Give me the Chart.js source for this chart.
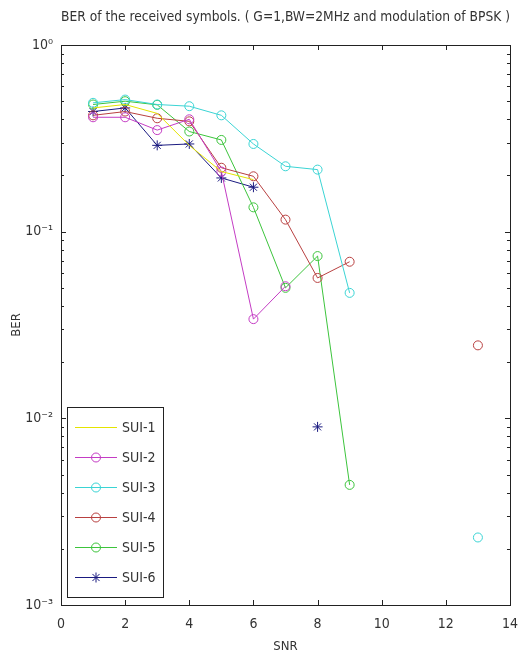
<!DOCTYPE html>
<html>
<head>
<meta charset="utf-8">
<script src="https://cdn.jsdelivr.net/npm/chart.js@4/dist/chart.umd.min.js"></script>
<style>
  body { margin: 0; background: #fff; }
  canvas { display: block; }
</style>
</head>
<body>
<canvas id="myChart" width="529" height="659"></canvas>
<script>
// SNR values (x axis)
const snr = [1, 2, 3, 4, 5, 6, 7, 8, 9, 10, 11, 12, 13]

// BER, null = no point
const sui1 = [0.46, 0.48, 0.43, 0.29, 0.21, 0.19, null, null, null, null, null, null, null]
const sui2 = [0.41, 0.41, 0.35, 0.40, 0.21, 0.034, 0.051, null, null, null, null, null, null]
const sui3 = [0.49, 0.51, 0.48, 0.47, 0.42, 0.295, 0.224, 0.215, 0.047, null, null, null, 0.0023]
const sui4 = [0.42, 0.44, 0.405, 0.39, 0.22, 0.198, 0.116, 0.0565, 0.069, null, null, null, 0.0246]
const sui5 = [0.48, 0.50, 0.478, 0.344, 0.31, 0.135, 0.05, 0.074, 0.0044, null, null, null, null]
const sui6 = [0.44, 0.46, 0.29, 0.295, 0.194, 0.173, null, 0.009, null, null, null, null, null]

const seriesNames = ["SUI-1", "SUI-2", "SUI-3", "SUI-4", "SUI-5", "SUI-6"]
const xTicks = [0, 2, 4, 6, 8, 10, 12, 14]
const yDecades = [0.001, 0.01, 0.1, 1]
const yTickLabels = ["10\u207B\u00B3", "10\u207B\u00B2", "10\u207B\u00B9", "10\u2070"]

const fontFam = '"Liberation Sans Narrow", "DejaVu Sans Condensed", "Arial Narrow", sans-serif'

const toPoints = (arr) => snr.map((x, i) => ({ x: x, y: arr[i] }))

const makeSet = (name, arr, color, style, radius) => ({
  label: name,
  data: toPoints(arr),
  borderColor: color,
  backgroundColor: color,
  borderWidth: 1,
  pointStyle: style,
  pointRadius: radius,
  pointBorderWidth: 1,
  pointBorderColor: color,
  pointBackgroundColor: "rgba(0,0,0,0)",
  spanGaps: false,
  tension: 0,
})

const datasets = [
  makeSet(seriesNames[0], sui1, "#e4e400", "circle", 0),
  makeSet(seriesNames[1], sui2, "#c43cc4", "circle", 4.5),
  makeSet(seriesNames[2], sui3, "#3ad4d4", "circle", 4.5),
  makeSet(seriesNames[3], sui4, "#b84040", "circle", 4.5),
  makeSet(seriesNames[4], sui5, "#3cc43c", "circle", 4.5),
  makeSet(seriesNames[5], sui6, "#1a1a80", "star", 5),
]

// box round the plot, inward ticks, legend in the lower left
const matlabBox = {
  id: "matlabBox",
  afterDraw(chart) {
    const ctx = chart.ctx
    const a = chart.chartArea
    const xs = chart.scales.x
    const ys = chart.scales.y
    ctx.save()
    ctx.strokeStyle = "#222"
    ctx.lineWidth = 1
    ctx.strokeRect(Math.round(a.left) + 0.5, Math.round(a.top) + 0.5,
      Math.round(a.right - a.left), Math.round(a.bottom - a.top))

    ctx.beginPath()
    xTicks.forEach(v => {
      const px = Math.round(xs.getPixelForValue(v)) + 0.5
      ctx.moveTo(px, a.bottom); ctx.lineTo(px, a.bottom - 5)
      ctx.moveTo(px, a.top); ctx.lineTo(px, a.top + 5)
    })
    ys.ticks.forEach(t => {
      const py = Math.round(ys.getPixelForValue(t.value)) + 0.5
      const major = yDecades.includes(t.value)
      const len = major ? 5 : 3
      ctx.moveTo(a.left, py); ctx.lineTo(a.left + len, py)
      ctx.moveTo(a.right, py); ctx.lineTo(a.right - len, py)
    })
    ctx.stroke()

    // legend
    const bx = 67, by = 407, bw = 96, bh = 190
    ctx.fillStyle = "#fff"
    ctx.fillRect(bx, by, bw, bh)
    ctx.strokeStyle = "#222"
    ctx.strokeRect(bx + 0.5, by + 0.5, bw, bh)
    ctx.font = "14px " + fontFam
    ctx.textBaseline = "middle"
    ctx.textAlign = "left"
    chart.data.datasets.forEach((ds, i) => {
      const y = by + 20 + i * 30
      ctx.strokeStyle = ds.borderColor
      ctx.lineWidth = 1
      ctx.beginPath()
      ctx.moveTo(75, y + 0.5); ctx.lineTo(117, y + 0.5)
      ctx.stroke()
      if (ds.pointRadius > 0) {
        ctx.fillStyle = "rgba(0,0,0,0)"
        Chart.helpers.drawPoint(ctx, { pointStyle: ds.pointStyle, radius: ds.pointRadius, borderWidth: 1, rotation: 0 }, 96, y + 0.5)
      }
      ctx.fillStyle = "#333"
      ctx.fillText(ds.label, 122, y + 1)
    })
    ctx.restore()
  }
}

const ctx = document.getElementById("myChart").getContext("2d")
const myChart = new Chart(ctx, {
  type: "line",
  data: { datasets: datasets },
  plugins: [matlabBox],
  options: {
    responsive: false,
    animation: false,
    devicePixelRatio: 1,
    layout: { padding: { top: 0, right: 7, bottom: 0, left: 0 } },
    plugins: {
      legend: { display: false },
      tooltip: { enabled: false },
      title: {
        display: true,
        fullSize: false,
        text: "BER of the received symbols. ( G=1,BW=2MHz and modulation of BPSK )",
        color: "#333",
        font: { family: fontFam, size: 14, weight: "normal", lineHeight: 1.2 },
        padding: { top: 9, bottom: 19.2 },
      },
    },
    scales: {
      x: {
        type: "linear",
        min: 0,
        max: 14,
        grid: { display: false, drawTicks: false },
        border: { display: false },
        afterFit: (scale) => { scale.height = 54 },
        afterBuildTicks: (scale) => { scale.ticks = xTicks.map(v => ({ value: v })) },
        ticks: {
          padding: 11,
          color: "#333",
          font: { family: fontFam, size: 14 },
          maxRotation: 0,
        },
        title: {
          display: true,
          text: "SNR",
          color: "#333",
          font: { family: fontFam, size: 13, lineHeight: 1.2 },
          padding: { top: 0, bottom: 5 },
        },
      },
      y: {
        type: "logarithmic",
        min: 0.001,
        max: 1,
        grid: { display: false, drawTicks: false },
        border: { display: false },
        afterFit: (scale) => { scale.width = 61 },
        afterBuildTicks: (scale) => {
          const t = []
          yDecades.forEach(d => {
            if (d === 1) { t.push({ value: 1 }); return }
            for (let k = 1; k <= 9; k++) t.push({ value: +(d * k).toPrecision(3) })
          })
          scale.ticks = t
        },
        ticks: {
          padding: 8,
          color: "#333",
          font: { family: fontFam, size: 14 },
          autoSkip: false,
          callback: (v) => {
            const i = yDecades.indexOf(v)
            return i >= 0 ? yTickLabels[i] : ""
          },
        },
        title: {
          display: true,
          text: "BER",
          color: "#333",
          font: { family: fontFam, size: 13, lineHeight: 1.2 },
          padding: { top: 9, bottom: 0 },
        },
      },
    },
  },
})
</script>
</body>
</html>
